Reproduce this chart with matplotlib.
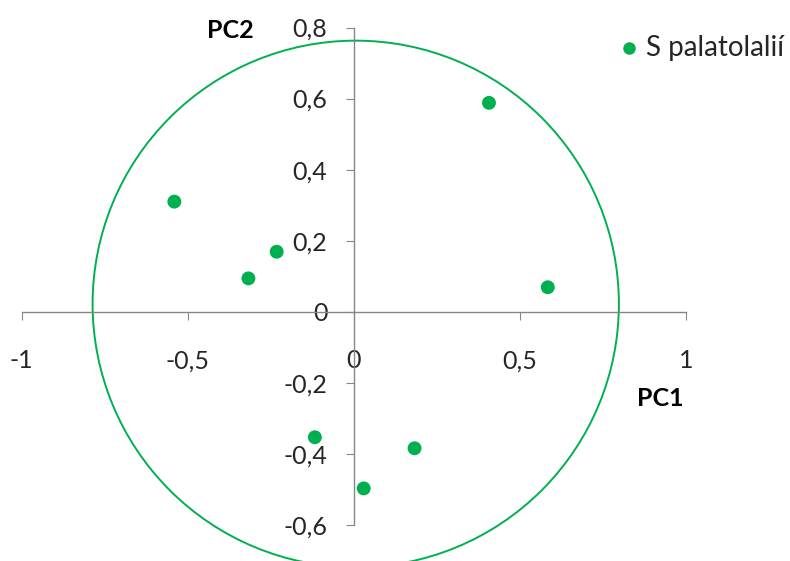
import matplotlib as mpl
mpl.use('Agg')
import matplotlib.pyplot as plt
from matplotlib.patches import Ellipse

# PCA loadings (PC1, PC2)
pc1 = [0.407, 0.584, -0.540, -0.232, -0.317, -0.117, 0.183, 0.030]
pc2 = [0.588, 0.069, 0.310, 0.169, 0.094, -0.353, -0.384, -0.497]
series_name = "S palatolalií"

x_ticks = [-1, -0.5, 0, 0.5, 1]
x_tick_labels = ["-1", "-0,5", "0", "0,5", "1"]
y_ticks = [-0.6, -0.4, -0.2, 0, 0.2, 0.4, 0.6, 0.8]
y_tick_labels = ["-0,6", "-0,4", "-0,2", "0", "0,2", "0,4", "0,6", "0,8"]

green = "#00B050"
grey = "#868686"
text_col = "#262626"

plt.rcParams['font.family'] = ['Lato', 'DejaVu Sans']

W, H = 790, 561
fig = plt.figure(figsize=(W / 100, H / 100), dpi=100)
ax = fig.add_axes([21.5 / W, (H - 525) / H, 664.5 / W, 497.5 / H])
ax.set_xlim(-1, 1)
ax.set_ylim(-0.6, 0.8)

# correlation circle
circle = Ellipse((0.006, 0.022), 2 * 0.792, 2 * 0.741, fill=False,
                 edgecolor=green, linewidth=1.4, clip_on=False, zorder=2)
ax.add_patch(circle)

ax.scatter(pc1, pc2, s=100, color=green, edgecolors='none', zorder=3, clip_on=False)

for side in ['top', 'right']:
    ax.spines[side].set_visible(False)
for side in ['left', 'bottom']:
    ax.spines[side].set_position('zero')
    ax.spines[side].set_color(grey)
    ax.spines[side].set_linewidth(1.0)

ax.set_xticks(x_ticks)
ax.set_xticklabels(x_tick_labels)
ax.set_yticks(y_ticks)
ax.set_yticklabels(y_tick_labels)
ax.tick_params(axis='x', direction='out', length=6, color=grey, pad=21,
               labelsize=18, labelcolor=text_col)
ax.tick_params(axis='y', direction='out', length=6, color=grey, pad=13,
               labelsize=18, labelcolor=text_col)

fig.text(230 / W, 1 - 30 / H, "PC2", fontsize=18, fontweight='bold',
         ha='center', va='center', color='black')
fig.text(660 / W, 1 - 398 / H, "PC1", fontsize=18, fontweight='bold',
         ha='center', va='center', color='black')

# legend
fig.lines.append(plt.Line2D([629 / W], [1 - 48 / H], marker='o', markersize=8,
                            color=green, linestyle='none', transform=fig.transFigure))
fig.text(646 / W, 1 - 48 / H, series_name, fontsize=20, ha='left', va='center',
         color=text_col)

fig.savefig("out.png", dpi=100)
plt.close()
